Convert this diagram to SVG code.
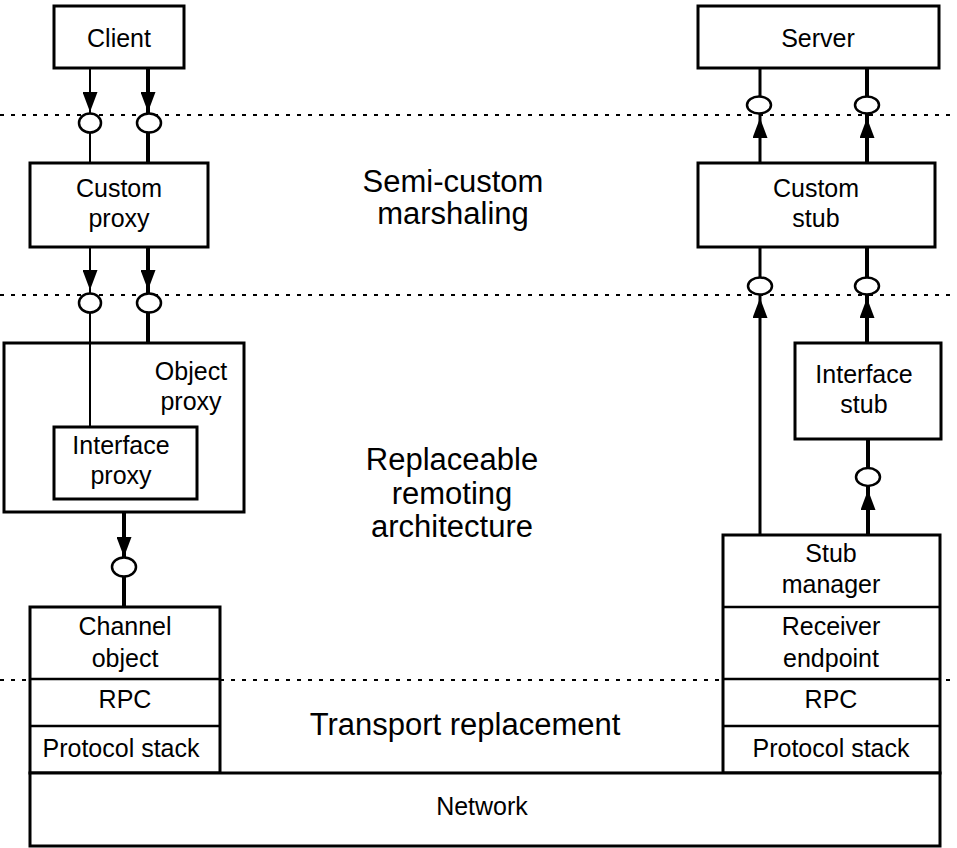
<svg xmlns="http://www.w3.org/2000/svg" width="957" height="848" viewBox="0 0 957 848">
<style>
.box{fill:#fff;stroke:#000;stroke-width:3}
.div{stroke:#000;stroke-width:2.5;fill:none}
.lbl{font-family:"Liberation Sans",Arial,sans-serif;font-size:25px;fill:#000;text-anchor:middle}
.big{font-family:"Liberation Sans",Arial,sans-serif;font-size:31px;fill:#000;text-anchor:middle}
.dash{stroke:#000;stroke-width:2;stroke-dasharray:4 7;fill:none}
.thin{stroke:#000;stroke-width:2;fill:none}
.thick{stroke:#000;stroke-width:4;fill:none}
.mid{stroke:#000;stroke-width:3;fill:none}
.ring{fill:#fff;stroke:#000;stroke-width:2.5}
</style>
<defs>
<marker id="arr" markerUnits="userSpaceOnUse" viewBox="0 0 20 15" refX="20" refY="7.5" markerWidth="20" markerHeight="15" orient="auto">
<path d="M0,0 L20,7.5 L0,15 z" fill="#000"/>
</marker>
</defs>
<rect width="957" height="848" fill="#fff"/>
<g id="layers">
<line class="dash" x1="0" y1="115" x2="957" y2="115"/>
<line class="dash" x1="0" y1="295" x2="957" y2="295"/>
<line class="dash" x1="0" y1="680" x2="957" y2="680"/>
<text class="big" x="453" y="192">Semi-custom</text>
<text class="big" x="453" y="224">marshaling</text>
<text class="big" x="452" y="470">Replaceable</text>
<text class="big" x="452" y="504">remoting</text>
<text class="big" x="452" y="537">architecture</text>
<text class="big" x="465" y="735">Transport replacement</text>
</g>
<g id="client">
<rect class="box" x="54" y="6" width="130" height="62"/>
<text class="lbl" x="119" y="47">Client</text>
</g>
<g id="server">
<rect class="box" x="698" y="6" width="241" height="62"/>
<text class="lbl" x="818" y="47">Server</text>
</g>
<g id="custom-proxy">
<rect class="box" x="30" y="163" width="178" height="84"/>
<text class="lbl" x="119" y="197">Custom</text>
<text class="lbl" x="119" y="227">proxy</text>
</g>
<g id="custom-stub">
<rect class="box" x="698" y="163" width="237" height="84"/>
<text class="lbl" x="816" y="197">Custom</text>
<text class="lbl" x="816" y="227">stub</text>
</g>
<g id="object-proxy">
<rect class="box" x="4" y="343" width="240" height="169"/>
<text class="lbl" x="191" y="380">Object</text>
<text class="lbl" x="191" y="410">proxy</text>
</g>
<g id="interface-proxy">
<rect class="box" x="54" y="427" width="143" height="72"/>
<text class="lbl" x="121" y="454">Interface</text>
<text class="lbl" x="121" y="484">proxy</text>
</g>
<g id="interface-stub">
<rect class="box" x="795" y="343" width="146" height="96"/>
<text class="lbl" x="864" y="383">Interface</text>
<text class="lbl" x="864" y="413">stub</text>
</g>
<g id="channel-stack">
<rect class="box" x="30" y="607" width="190" height="166"/>
<line class="div" x1="30" y1="679" x2="220" y2="679"/>
<line class="div" x1="30" y1="726" x2="220" y2="726"/>
<text class="lbl" x="125" y="635">Channel</text>
<text class="lbl" x="125" y="667">object</text>
<text class="lbl" x="125" y="708">RPC</text>
<text class="lbl" x="121" y="757">Protocol stack</text>
</g>
<g id="stub-stack">
<rect class="box" x="723" y="535" width="217" height="238"/>
<line class="div" x1="723" y1="607" x2="940" y2="607"/>
<line class="div" x1="723" y1="679" x2="940" y2="679"/>
<line class="div" x1="723" y1="726" x2="940" y2="726"/>
<text class="lbl" x="831" y="562">Stub</text>
<text class="lbl" x="831" y="593">manager</text>
<text class="lbl" x="831" y="635">Receiver</text>
<text class="lbl" x="831" y="667">endpoint</text>
<text class="lbl" x="831" y="708">RPC</text>
<text class="lbl" x="831" y="757">Protocol stack</text>
</g>
<g id="network">
<rect class="box" x="30" y="773" width="910" height="73"/>
<text class="lbl" x="482" y="815">Network</text>
</g>
<g id="connectors">
<path class="thin" d="M90,68 V112" marker-end="url(#arr)"/>
<path class="thin" d="M90,112 V163"/>
<ellipse class="ring" cx="90" cy="123" rx="11" ry="9.5"/>
<path class="thick" d="M148,68 V112" marker-end="url(#arr)"/>
<path class="thick" d="M148,112 V163"/>
<ellipse class="ring" cx="149" cy="123" rx="12" ry="9.5"/>
<path class="thin" d="M90,247 V290" marker-end="url(#arr)"/>
<path class="thin" d="M90,290 V427"/>
<ellipse class="ring" cx="90" cy="303" rx="11" ry="9.5"/>
<path class="thick" d="M148,247 V290" marker-end="url(#arr)"/>
<path class="thick" d="M148,290 V343"/>
<ellipse class="ring" cx="149" cy="303" rx="12" ry="9.5"/>
<path class="thick" d="M124,512 V557" marker-end="url(#arr)"/>
<path class="thick" d="M124,557 V607"/>
<ellipse class="ring" cx="124" cy="567" rx="12" ry="9.5"/>
<path class="mid" d="M760,163 V118" marker-end="url(#arr)"/>
<path class="mid" d="M760,118 V68"/>
<ellipse class="ring" cx="759" cy="105" rx="12" ry="8.5"/>
<path class="thick" d="M867,163 V118" marker-end="url(#arr)"/>
<path class="thick" d="M867,118 V68"/>
<ellipse class="ring" cx="867" cy="105" rx="12" ry="8.5"/>
<path class="mid" d="M760,535 V298" marker-end="url(#arr)"/>
<path class="mid" d="M760,298 V247"/>
<ellipse class="ring" cx="760" cy="286" rx="12" ry="8.5"/>
<path class="thick" d="M867,343 V298" marker-end="url(#arr)"/>
<path class="thick" d="M867,298 V247"/>
<ellipse class="ring" cx="867" cy="286" rx="12" ry="8.5"/>
<path class="thick" d="M868,535 V490" marker-end="url(#arr)"/>
<path class="thick" d="M868,490 V439"/>
<ellipse class="ring" cx="868" cy="477" rx="12" ry="9"/>
</g>
</svg>
